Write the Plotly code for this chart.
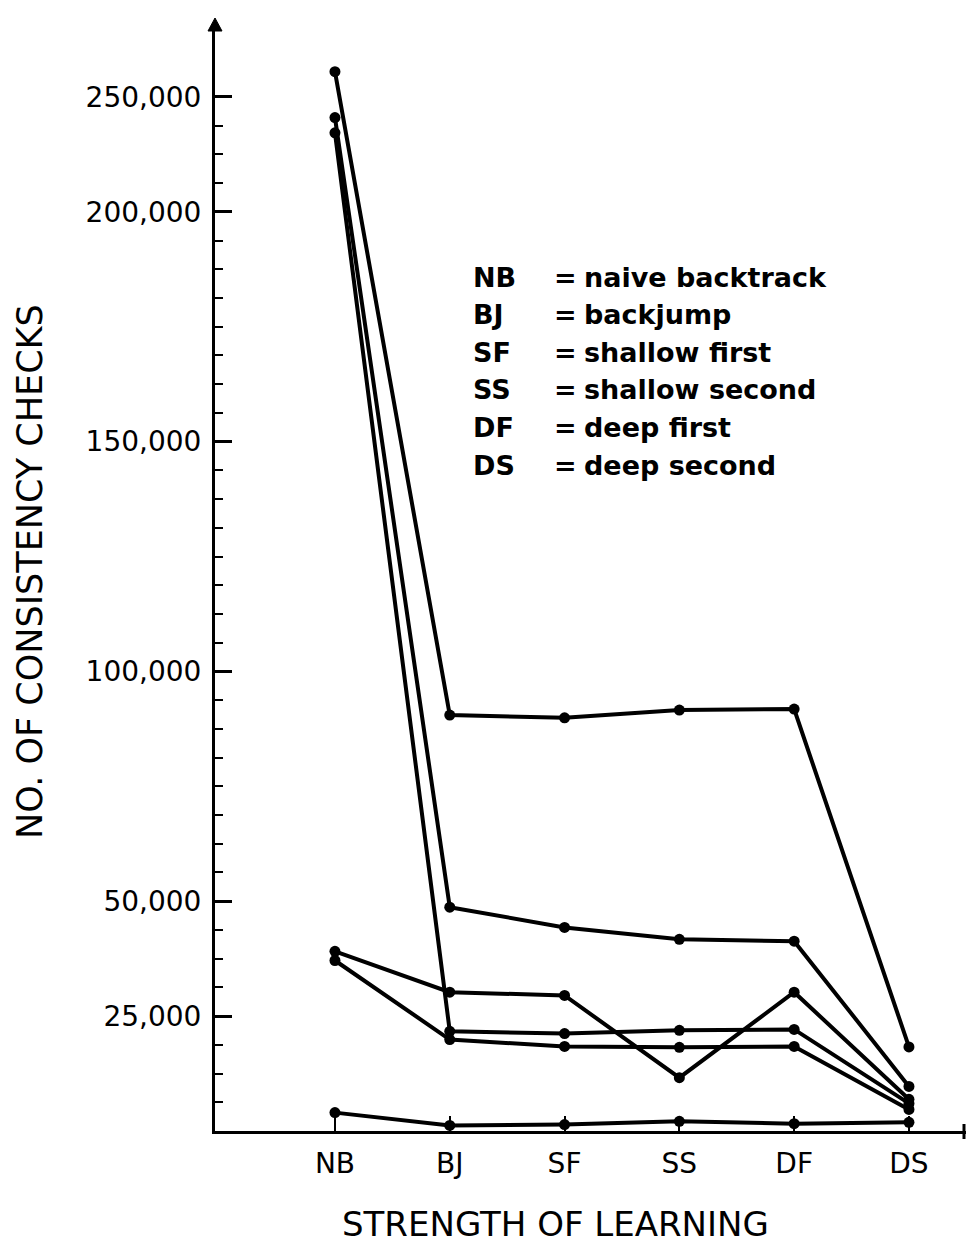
import plotly.graph_objects as go

# ---------------- data ----------------
CATEGORIES = ["NB", "BJ", "SF", "SS", "DF", "DS"]

SERIES_1 = [261000, 90500, 89900, 91600, 91800, 18300]
SERIES_2 = [241000, 48700, 44300, 41700, 41300, 9700]
SERIES_3 = [234400, 21700, 21200, 21900, 22100, 6000]
SERIES_4 = [39100, 30200, 29500, 11600, 30200, 6900]
SERIES_5 = [37100, 19900, 18400, 18200, 18400, 4700]
SERIES_6 = [4000, 1200, 1400, 2100, 1600, 1900]
ALL_SERIES = [SERIES_1, SERIES_2, SERIES_3, SERIES_4, SERIES_5, SERIES_6]

Y_TICK_VALUES = [25000, 50000, 75000, 100000, 125000, 150000, 175000, 200000, 250000]
Y_TICK_TEXT = ["25,000", "50,000", "", "100,000", "", "150,000", "", "200,000", "250,000"]

LEGEND_ABBR = ["NB", "BJ", "SF", "SS", "DF", "DS"]
LEGEND_DESC = ["naive backtrack", "backjump", "shallow first",
               "shallow second", "deep first", "deep second"]

X_TITLE = "STRENGTH OF LEARNING"
Y_TITLE = "NO. OF CONSISTENCY CHECKS"

# The original axis is compressed by half above 200,000
BREAK = 200000


def to_axis(v):
    return v if v <= BREAK else BREAK + (v - BREAK) / 2


# ---------------- layout geometry ----------------
W, H = 966, 1243
ML, MR, MT, MB = 215, 0, 28, 112
PW, PH = W - ML - MR, H - MT - MB
FONT = "DejaVu Sans"


def px_x(px):
    return (px - ML) / PW


def px_y(py):
    return (H - MB - py) / PH


fig = go.Figure()
for i, s in enumerate(ALL_SERIES):
    fig.add_trace(go.Scatter(
        x=CATEGORIES, y=[to_axis(v) for v in s], mode="lines+markers",
        name=f"series {i + 1}",
        line=dict(color="black", width=4),
        marker=dict(color="black", size=11),
        cliponaxis=False, showlegend=False,
    ))

minor_vals = [k * 6250 for k in range(1, int(to_axis(250000) / 6250) + 1)]

fig.update_layout(
    width=W, height=H,
    margin=dict(l=ML, r=MR, t=MT, b=MB),
    paper_bgcolor="white", plot_bgcolor="white",
    font=dict(family=FONT, color="black"),
    xaxis=dict(
        type="category", range=[-1.045, 5.497],
        showline=True, linecolor="black", linewidth=3,
        ticks="inside", ticklen=15, tickwidth=2, tickcolor="black",
        tickfont=dict(size=28, family=FONT, color="black"),
        ticklabelstandoff=5,
        showgrid=False, zeroline=False,
    ),
    yaxis=dict(
        range=[0, 240000],
        showline=True, linecolor="black", linewidth=3,
        tickmode="array",
        tickvals=[to_axis(v) for v in Y_TICK_VALUES], ticktext=Y_TICK_TEXT,
        ticks="inside", ticklen=17, tickwidth=2.5, tickcolor="black",
        tickfont=dict(size=28, family=FONT, color="black"),
        ticklabelstandoff=5,
        minor=dict(tickmode="array", tickvals=minor_vals, ticks="inside",
                   ticklen=8, tickwidth=2, tickcolor="black", showgrid=False),
        showgrid=False, zeroline=False,
    ),
)

# arrow head at top of y-axis and end mark on x-axis
fig.add_shape(type="path", xref="paper", yref="paper",
              path=f"M {px_x(208)},{px_y(31)} L {px_x(215)},{px_y(18)} L {px_x(222)},{px_y(31)} Z",
              fillcolor="black", line=dict(color="black", width=1))
fig.add_shape(type="line", xref="paper", yref="paper",
              x0=px_x(964), x1=px_x(964), y0=px_y(1124), y1=px_y(1139),
              line=dict(color="black", width=3))

# axis titles
fig.add_annotation(xref="paper", yref="paper", x=px_x(555), y=px_y(1224),
                   text=X_TITLE, showarrow=False, xanchor="center", yanchor="middle",
                   font=dict(size=34, family=FONT, color="black"))
fig.add_annotation(xref="paper", yref="paper", x=px_x(30), y=px_y(572),
                   text=Y_TITLE, showarrow=False, textangle=-90,
                   xanchor="center", yanchor="middle",
                   font=dict(size=35, family=FONT, color="black"))

# key block
for i, (abbr, desc) in enumerate(zip(LEGEND_ABBR, LEGEND_DESC)):
    ry = 277 + 37.6 * i
    key_font = dict(size=27, family=FONT, color="black", weight="bold")
    fig.add_annotation(xref="paper", yref="paper", x=px_x(471), y=px_y(ry),
                       text=abbr, showarrow=False, xanchor="left", yanchor="middle",
                       font=key_font)
    fig.add_annotation(xref="paper", yref="paper", x=px_x(565), y=px_y(ry),
                       text="=", showarrow=False, xanchor="center", yanchor="middle",
                       font=key_font)
    fig.add_annotation(xref="paper", yref="paper", x=px_x(582), y=px_y(ry),
                       text=desc, showarrow=False, xanchor="left", yanchor="middle",
                       font=key_font)

fig.write_html("out.html")
